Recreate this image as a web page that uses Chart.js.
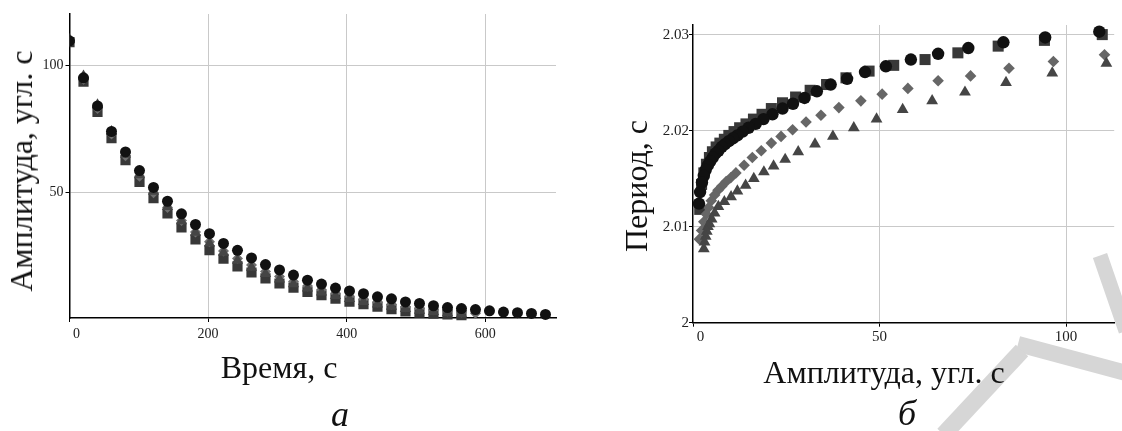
<!DOCTYPE html>
<html>
<head>
<meta charset="utf-8">
<title>Затухание колебаний</title>
<script src="https://cdn.jsdelivr.net/npm/chart.js@4/dist/chart.umd.min.js"></script>
<style>
    body { margin: 0; width: 1122px; height: 431px; background: #fff; position: relative; overflow: hidden;
           font-family: "Liberation Serif", "Times New Roman", serif; color: #111; }
    canvas { position: absolute; top: 0; }
    #decayChart { left: 0; }
    #periodChart { left: 580px; }
    .label { position: absolute; white-space: nowrap; line-height: 1; font-size: 32px; }
    .caption { position: absolute; white-space: nowrap; line-height: 1; font-size: 36px; font-style: italic; }
    .mark { position: absolute; background: #d6d6d6; transform-origin: 0 50%; }
</style>
</head>
<body>

<!-- watermark remains -->
<div class="mark" style="left:1100px; top:248px; width:80px; height:15px; transform: rotate(71deg);"></div>
<div class="mark" style="left:1018px; top:336px; width:120px; height:16px; transform: rotate(15deg);"></div>
<div class="mark" style="left:1022px; top:342px; width:115px; height:17px; transform: rotate(133deg);"></div>

<canvas id="decayChart" width="580" height="431"></canvas>
<canvas id="periodChart" width="542" height="431"></canvas>

<div class="label" style="left:21px; top:171px; transform: translate(-50%, -50%) rotate(-90deg);">Амплитуда, угл. с</div>
<div class="label" style="left:279px; top:351px; transform: translateX(-50%);">Время, с</div>
<div class="caption" style="left:340px; top:396px; transform: translateX(-50%);">а</div>

<div class="label" style="left:636px; top:186px; transform: translate(-50%, -50%) rotate(-90deg);">Период, с</div>
<div class="label" style="left:884px; top:356px; transform: translateX(-50%);">Амплитуда, угл. с</div>
<div class="caption" style="left:907px; top:395px; transform: translateX(-50%);">б</div>

<script>
// ---- (а) amplitude vs time ----
const timeA = [0, 20.2, 40.4, 60.6, 80.8, 101, 121.2, 141.4, 161.6, 181.8, 202, 222.2, 242.4, 262.6, 282.8,
    303, 323.2, 343.4, 363.6, 383.8, 404, 424.2, 444.4, 464.6, 484.8, 505, 525.2, 545.4, 565.6, 585.8,
    606, 626.2, 646.4, 666.6, 686.8];
const ampCircle = [109.5, 95, 84, 74, 66, 58.7, 52.1, 46.7, 41.8, 37.6, 34, 30.2, 27.5, 24.5, 21.9,
    19.8, 17.8, 15.8, 14.3, 12.7, 11.6, 10.5, 9.3, 8.5, 7.3, 6.7, 5.8, 5.1, 4.7, 4.3,
    3.8, 3.3, 3.1, 2.8, 2.4];
const ampSquare = [109, 93.5, 81.7, 71.4, 62.8, 54.3, 47.9, 41.9, 36.5, 31.8, 27.6, 24.2, 21.2, 18.8, 16.5,
    14.5, 12.9, 11.2, 9.9, 8.6, 7.4, 6.4, 5.4, 4.5, 3.6, 3.1, 2.7, 2.4, 2.1];
const ampDiamond = [109.5, 94.5, 83, 73, 64.5, 56.5, 50, 44.3, 39.2, 34.7, 30.8, 27.2, 24.3, 21.7, 19.2,
    17.2, 15.3, 13.5, 12.1, 10.7, 9.5, 8.4, 7.3, 6.4, 5.4, 4.8, 4.2, 3.7, 3.3, 2.9];
const ampTriangle = [110, 95.7, 84.5, 74, 65, 57, 50.5, 44.5, 39, 34.5, 30.3, 26.6, 23.5, 20.8, 18.3,
    16.2, 14.3, 12.6, 11.1, 9.7, 8.5, 7.4, 6.4, 5.5, 4.6, 3.9, 3.4, 3.0, 2.6];
const timeTicks = [0, 200, 400, 600];
const ampTicks = [50, 100];

// ---- (б) period vs amplitude ----
const ampCircleB = [108.9, 94.4, 83.2, 73.8, 65.7, 58.4, 51.7, 46.1, 41.3, 36.9, 33.2, 29.9, 26.8, 24.0, 21.3,
    18.9, 16.8, 14.9, 13.3, 11.9, 10.7, 9.6, 8.6, 7.7, 6.8, 6.0, 5.3, 4.6, 4.0, 3.4, 2.9, 2.4, 1.9, 1.6];
const periodCircle = [2.0303, 2.0297, 2.0292, 2.0286, 2.0280, 2.0274, 2.0267, 2.0261, 2.0254, 2.0248, 2.0241,
    2.0234, 2.0228, 2.0223, 2.0217, 2.0212, 2.0207, 2.0203, 2.0199, 2.0195, 2.0192, 2.0189, 2.0186, 2.0183,
    2.0179, 2.0176, 2.0172, 2.0168, 2.0164, 2.0159, 2.0153, 2.0146, 2.0136, 2.0124];
const ampSquareB = [109.7, 94.2, 81.8, 71.0, 62.2, 53.8, 47.2, 41.0, 35.8, 31.4, 27.5, 24.0, 21.0, 18.5,
    16.2, 14.2, 12.5, 11.0, 9.6, 8.4, 7.2, 6.2, 5.2, 4.4, 3.6, 2.9, 2.3, 1.8];
const periodSquare = [2.0300, 2.0294, 2.0288, 2.0281, 2.0274, 2.0268, 2.0262, 2.0255, 2.0248, 2.0242, 2.0235,
    2.0229, 2.0223, 2.0217, 2.0212, 2.0207, 2.0203, 2.0199, 2.0195, 2.0191, 2.0187, 2.0183, 2.0178, 2.0172,
    2.0165, 2.0156, 2.0144, 2.0118];
const ampDiamondB = [110.3, 96.6, 84.7, 74.4, 65.7, 57.6, 50.7, 45.0, 39.1, 34.3, 30.3, 26.7, 23.6, 21.0,
    18.3, 15.9, 13.7, 11.5, 10.1, 8.9, 7.7, 6.7, 5.8, 4.9, 4.2, 3.6, 2.9, 2.3, 1.7];
const periodDiamond = [2.0279, 2.0272, 2.0265, 2.0257, 2.0252, 2.0244, 2.0238, 2.0231, 2.0224, 2.0216, 2.0209,
    2.0201, 2.0194, 2.0187, 2.0179, 2.0172, 2.0164, 2.0156, 2.0151, 2.0147, 2.0142, 2.0138, 2.0133, 2.0127,
    2.0120, 2.0113, 2.0105, 2.0096, 2.0087];
const ampTriangleB = [110.8, 96.3, 83.9, 72.9, 64.1, 56.2, 49.2, 43.1, 37.5, 32.7, 28.2, 24.7, 21.6, 19.0,
    16.3, 14.1, 11.9, 10.2, 8.4, 6.8, 5.8, 5.0, 4.4, 4.0, 3.7, 3.4, 3.1, 2.9];
const periodTriangle = [2.0270, 2.0260, 2.0250, 2.0240, 2.0231, 2.0222, 2.0212, 2.0203, 2.0194, 2.0186, 2.0178,
    2.0170, 2.0163, 2.0157, 2.0150, 2.0143, 2.0137, 2.0131, 2.0126, 2.0121, 2.0114, 2.0108, 2.0103, 2.0100,
    2.0095, 2.0090, 2.0084, 2.0077];
const amplitudeTicks = [0, 50, 100];
const periodTicks = [2, 2.01, 2.02, 2.03];

const GRID = '#c9c9c9';

// pair up x and y lists for a scatter dataset
function pts(xs, ys) {
    return xs.map((x, i) => ({ x: x, y: ys[i] }));
}

function series(data, style, color, radius, order) {
    return {
        data: data,
        pointStyle: style,
        pointRadius: radius,
        pointHoverRadius: radius,
        pointBackgroundColor: color,
        pointBorderWidth: 0,
        order: order,
        clip: { left: 0, top: false, right: false, bottom: false }
    };
}

// fixed ticks + fixed axis box so the plot area lands where it should
function axis(min, max, ticks, size, opts) {
    const horizontal = opts.horizontal;
    return {
        type: 'linear',
        min: min,
        max: max,
        afterBuildTicks: s => { s.ticks = ticks.map(v => ({ value: v })); },
        afterFit: s => { if (horizontal) s.height = size; else s.width = size; },
        border: { color: '#000', width: 1.5 },
        grid: {
            color: ctx => (opts.hideFirst && ctx.index === 0) ? 'rgba(0,0,0,0)' : GRID,
            tickColor: '#000',
            tickLength: 4,
            lineWidth: 1
        },
        ticks: {
            color: '#222',
            padding: opts.pad,
            font: { family: '"Liberation Serif", "Times New Roman", serif', size: opts.fontSize },
            maxRotation: 0,
            callback: v => (horizontal && v === 0) ? '\u2007\u20070' : String(v)
        }
    };
}

function baseOptions(padding, xScale, yScale) {
    return {
        responsive: false,
        animation: false,
        layout: { padding: padding },
        plugins: { legend: { display: false }, tooltip: { enabled: false } },
        scales: { x: xScale, y: yScale }
    };
}

// (а) amplitude decay
new Chart(document.getElementById('decayChart').getContext('2d'), {
    type: 'scatter',
    data: {
        datasets: [
            series(pts(timeA, ampCircle), 'circle', '#111111', 5.5, 0),
            series(pts(timeA, ampTriangle), 'triangle', '#454545', 6.5, 1),
            series(pts(timeA, ampDiamond), 'rectRot', '#6e6e6e', 5.5, 2),
            series(pts(timeA, ampSquare), 'rect', '#383838', 7.2, 3)
        ]
    },
    options: baseOptions(
        { left: 0, top: 14, right: 24, bottom: 83 },
        axis(0, 702, timeTicks, 30, { horizontal: true, hideFirst: true, pad: 4, fontSize: 14 }),
        axis(1, 120, ampTicks, 69.5, { horizontal: false, hideFirst: false, pad: 2, fontSize: 14 })
    )
});

// (б) period vs amplitude
new Chart(document.getElementById('periodChart').getContext('2d'), {
    type: 'scatter',
    data: {
        datasets: [
            series(pts(ampCircleB, periodCircle), 'circle', '#111111', 6.2, 0),
            series(pts(ampTriangleB, periodTriangle), 'triangle', '#454545', 6.8, 1),
            series(pts(ampDiamondB, periodDiamond), 'rectRot', '#666666', 5.8, 2),
            series(pts(ampSquareB, periodSquare), 'rect', '#383838', 7.8, 3)
        ]
    },
    options: baseOptions(
        { left: 0, top: 25, right: 0, bottom: 78.3 },
        axis(0, 112.9, amplitudeTicks, 30, { horizontal: true, hideFirst: true, pad: 1, fontSize: 15 }),
        axis(2, 2.031, periodTicks, 113, { horizontal: false, hideFirst: true, pad: 0, fontSize: 15 })
    )
});
</script>
</body>
</html>
